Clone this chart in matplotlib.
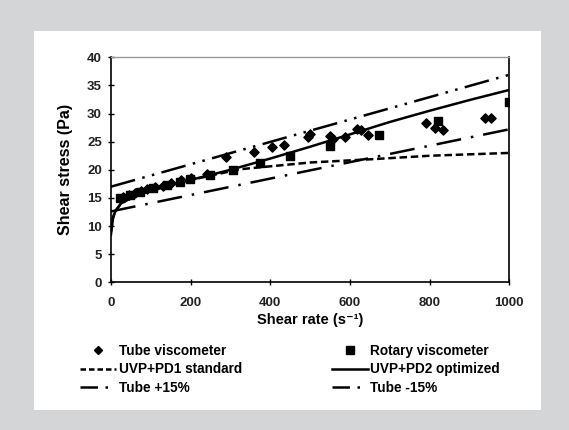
import matplotlib.pyplot as plt
from matplotlib.patches import Rectangle
from matplotlib.lines import Line2D

plt.rcParams['font.family'] = ['Liberation Sans', 'DejaVu Sans']

# Measured data
tube_rate = [30, 45, 60, 75, 90, 110, 130, 150, 175, 200, 240, 289, 359, 405, 435,
             495, 500, 550, 558, 587, 617, 629, 646, 791, 813, 834, 939, 953]
tube_stress = [15.2, 15.6, 15.9, 16.3, 16.6, 17.0, 17.2, 17.6, 18.1, 18.5, 19.2, 22.3, 23.2, 24.1, 24.4,
               25.8, 26.4, 26.0, 25.4, 25.8, 27.3, 27.0, 26.2, 28.3, 27.4, 27.1, 29.3, 29.3]

rot_rate = [23, 48, 73, 106, 140, 173, 198, 249, 307, 374, 450, 550, 674, 822, 1000]
rot_stress = [14.9, 15.5, 16.1, 16.7, 17.3, 17.9, 18.3, 19.1, 20.0, 21.2, 22.5, 24.2, 26.1, 28.7, 32.1]

# Model curves
pd1_rate = [0, 5, 10, 25, 50, 100, 200, 324, 500, 659, 800, 1000]
pd1_stress = [9.0, 11.5, 12.6, 14.0, 15.0, 16.3, 18.2, 20.1, 21.3, 21.9, 22.5, 23.0]

pd2_rate = [0, 5, 10, 25, 50, 100, 200, 300, 400, 500, 600, 700, 800, 900, 1000]
pd2_stress = [8.5, 11.3, 12.5, 14.0, 15.0, 16.3, 18.2, 20.0, 22.0, 24.1, 26.3, 28.5, 30.5, 32.4, 34.2]

band_rate = [0, 1000]
tube_plus = [17.0, 36.9]
tube_minus = [12.6, 27.2]

fig = plt.figure(figsize=(5.69, 4.30), dpi=100)
fig.patch.set_facecolor('#d4d5d7')
fig.patches.append(Rectangle((0.0598, 0.0465), 0.891, 0.881, transform=fig.transFigure,
                             facecolor='white', edgecolor='none', zorder=-1))

ax = fig.add_axes([0.195, 0.3435, 0.700, 0.5232])
ax.set_zorder(1)
ax.set_facecolor('white')

ax.plot(band_rate, tube_plus, color='black', lw=1.8, dashes=(10, 3, 1, 3, 1, 3))
ax.plot(band_rate, tube_minus, color='black', lw=1.8, dashes=(10, 4, 1, 4))
ax.plot(pd1_rate, pd1_stress, color='black', lw=1.8, dashes=(3, 1.5))
ax.plot(pd2_rate, pd2_stress, color='black', lw=1.8)
ax.scatter(tube_rate, tube_stress, marker='D', s=22, color='black', zorder=3)
ax.scatter(rot_rate, rot_stress, marker='s', s=34, color='black', zorder=3)

ax.set_xlim(0, 1000)
ax.set_ylim(0, 40)
ax.set_xticks(range(0, 1001, 200))
ax.set_yticks(range(0, 41, 5))
ax.tick_params(direction='inout', length=5, width=1, labelsize=9.5)
ax.tick_params(axis='x', pad=8)
ax.tick_params(axis='y', pad=4)
for lbl in ax.get_xticklabels() + ax.get_yticklabels():
    lbl.set_fontweight('bold')
    lbl.set_color('#222222')
for s in ['left', 'bottom', 'right']:
    ax.spines[s].set_linewidth(1.2)
ax.spines['top'].set_color('#999999')
ax.spines['top'].set_linewidth(1.0)

ax.set_xlabel('Shear rate (s⁻¹)', fontsize=10.5, fontweight='bold', labelpad=3)
ax.set_ylabel('Shear stress (Pa)', fontsize=11.5, fontweight='bold', labelpad=10)

# legend handles (short dash patterns so the dot shows)
handles = [
    Line2D([], [], ls='none', marker='D', ms=4.5, color='black'),
    Line2D([], [], color='black', lw=1.8, dashes=(2.2, 1.2)),
    Line2D([], [], color='black', lw=1.8, dashes=(7, 3, 1, 30)),
    Line2D([], [], ls='none', marker='s', ms=6, color='black'),
    Line2D([], [], color='black', lw=1.8),
    Line2D([], [], color='black', lw=1.8, dashes=(7, 3, 1, 30)),
]
labels = ['Tube viscometer', 'UVP+PD1 standard', 'Tube +15%',
          'Rotary viscometer', 'UVP+PD2 optimized', 'Tube -15%']
fig.legend(handles, labels, ncol=2, loc='upper left',
           bbox_to_anchor=(0.141, 0.2), frameon=False,
           prop={'weight': 'bold', 'size': 9.8}, handlelength=2.65, handletextpad=0.18,
           columnspacing=6.6, labelspacing=0.32, borderpad=0, borderaxespad=0)

fig.savefig('out.png', dpi=100, facecolor=fig.get_facecolor())
